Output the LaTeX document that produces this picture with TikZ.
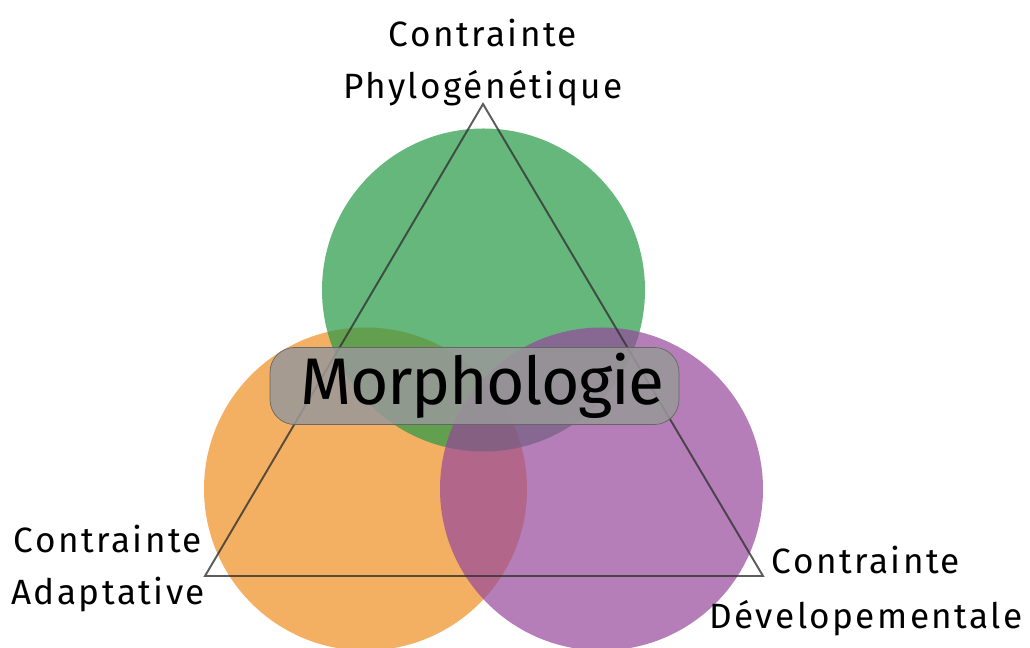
\documentclass[tikz,border=0pt]{standalone}
\usepackage{fontspec}
\setmainfont[LetterSpace=7]{Fira Sans}
\newfontfamily\morphofont[LetterSpace=-2]{Fira Sans}
\usepackage{tikz}
\usetikzlibrary{positioning}
\definecolor{phylogreen}{RGB}{36,152,69}
\definecolor{adaptorange}{RGB}{239,142,32}
\definecolor{develpurple}{RGB}{149,71,155}
\tikzset{
	contrainte/.style={circle, minimum size=6.46cm, inner sep=0pt, fill opacity=0.7},
	etiquette/.style={align=center, inner sep=0pt, anchor=north, font=\fontsize{20}{29.6}\selectfont},
	triangle/.style={draw=black!80, draw opacity=0.8, line width=1.1pt, line join=miter},
	morpho/.style={rounded corners=0.5cm, draw=black!60, fill=black!40, fill opacity=0.85, text opacity=1, minimum width=8.18cm, minimum height=1.44cm, font=\morphofont\fontsize{37.5}{40}\selectfont}
}
\begin{document}
\begin{tikzpicture}
		\useasboundingbox (0,0) rectangle (20.6,12.96);
		\node[contrainte, fill=adaptorange] (adapt) at (7.31,3.18) {};
		\node[contrainte, fill=phylogreen] (phylo) at (9.67,7.16) {};
		\node[contrainte, fill=develpurple] (devel) at (12.03,3.18) {};

		\coordinate (apex) at (9.66,10.88);
		\coordinate (left) at (4.10,1.44);
		\coordinate (right) at (15.26,1.44);
		\draw[triangle] (apex) -- (left) -- (right) -- cycle;

		\node[etiquette] (lphylo) at (9.66,12.58) {Contrainte\\Phylogénétique};
		\node[etiquette] (ladapt) at (2.16,2.46) {Contrainte\\Adaptative};
		\node[etiquette] (ldevel) at (17.32,2.04) {Contrainte\\[0.05cm]Dévelopementale};

		\node[morpho] (morph) at (9.49,5.24) {\hspace{0.32cm}Morphologie};
	\end{tikzpicture}
\end{document}
